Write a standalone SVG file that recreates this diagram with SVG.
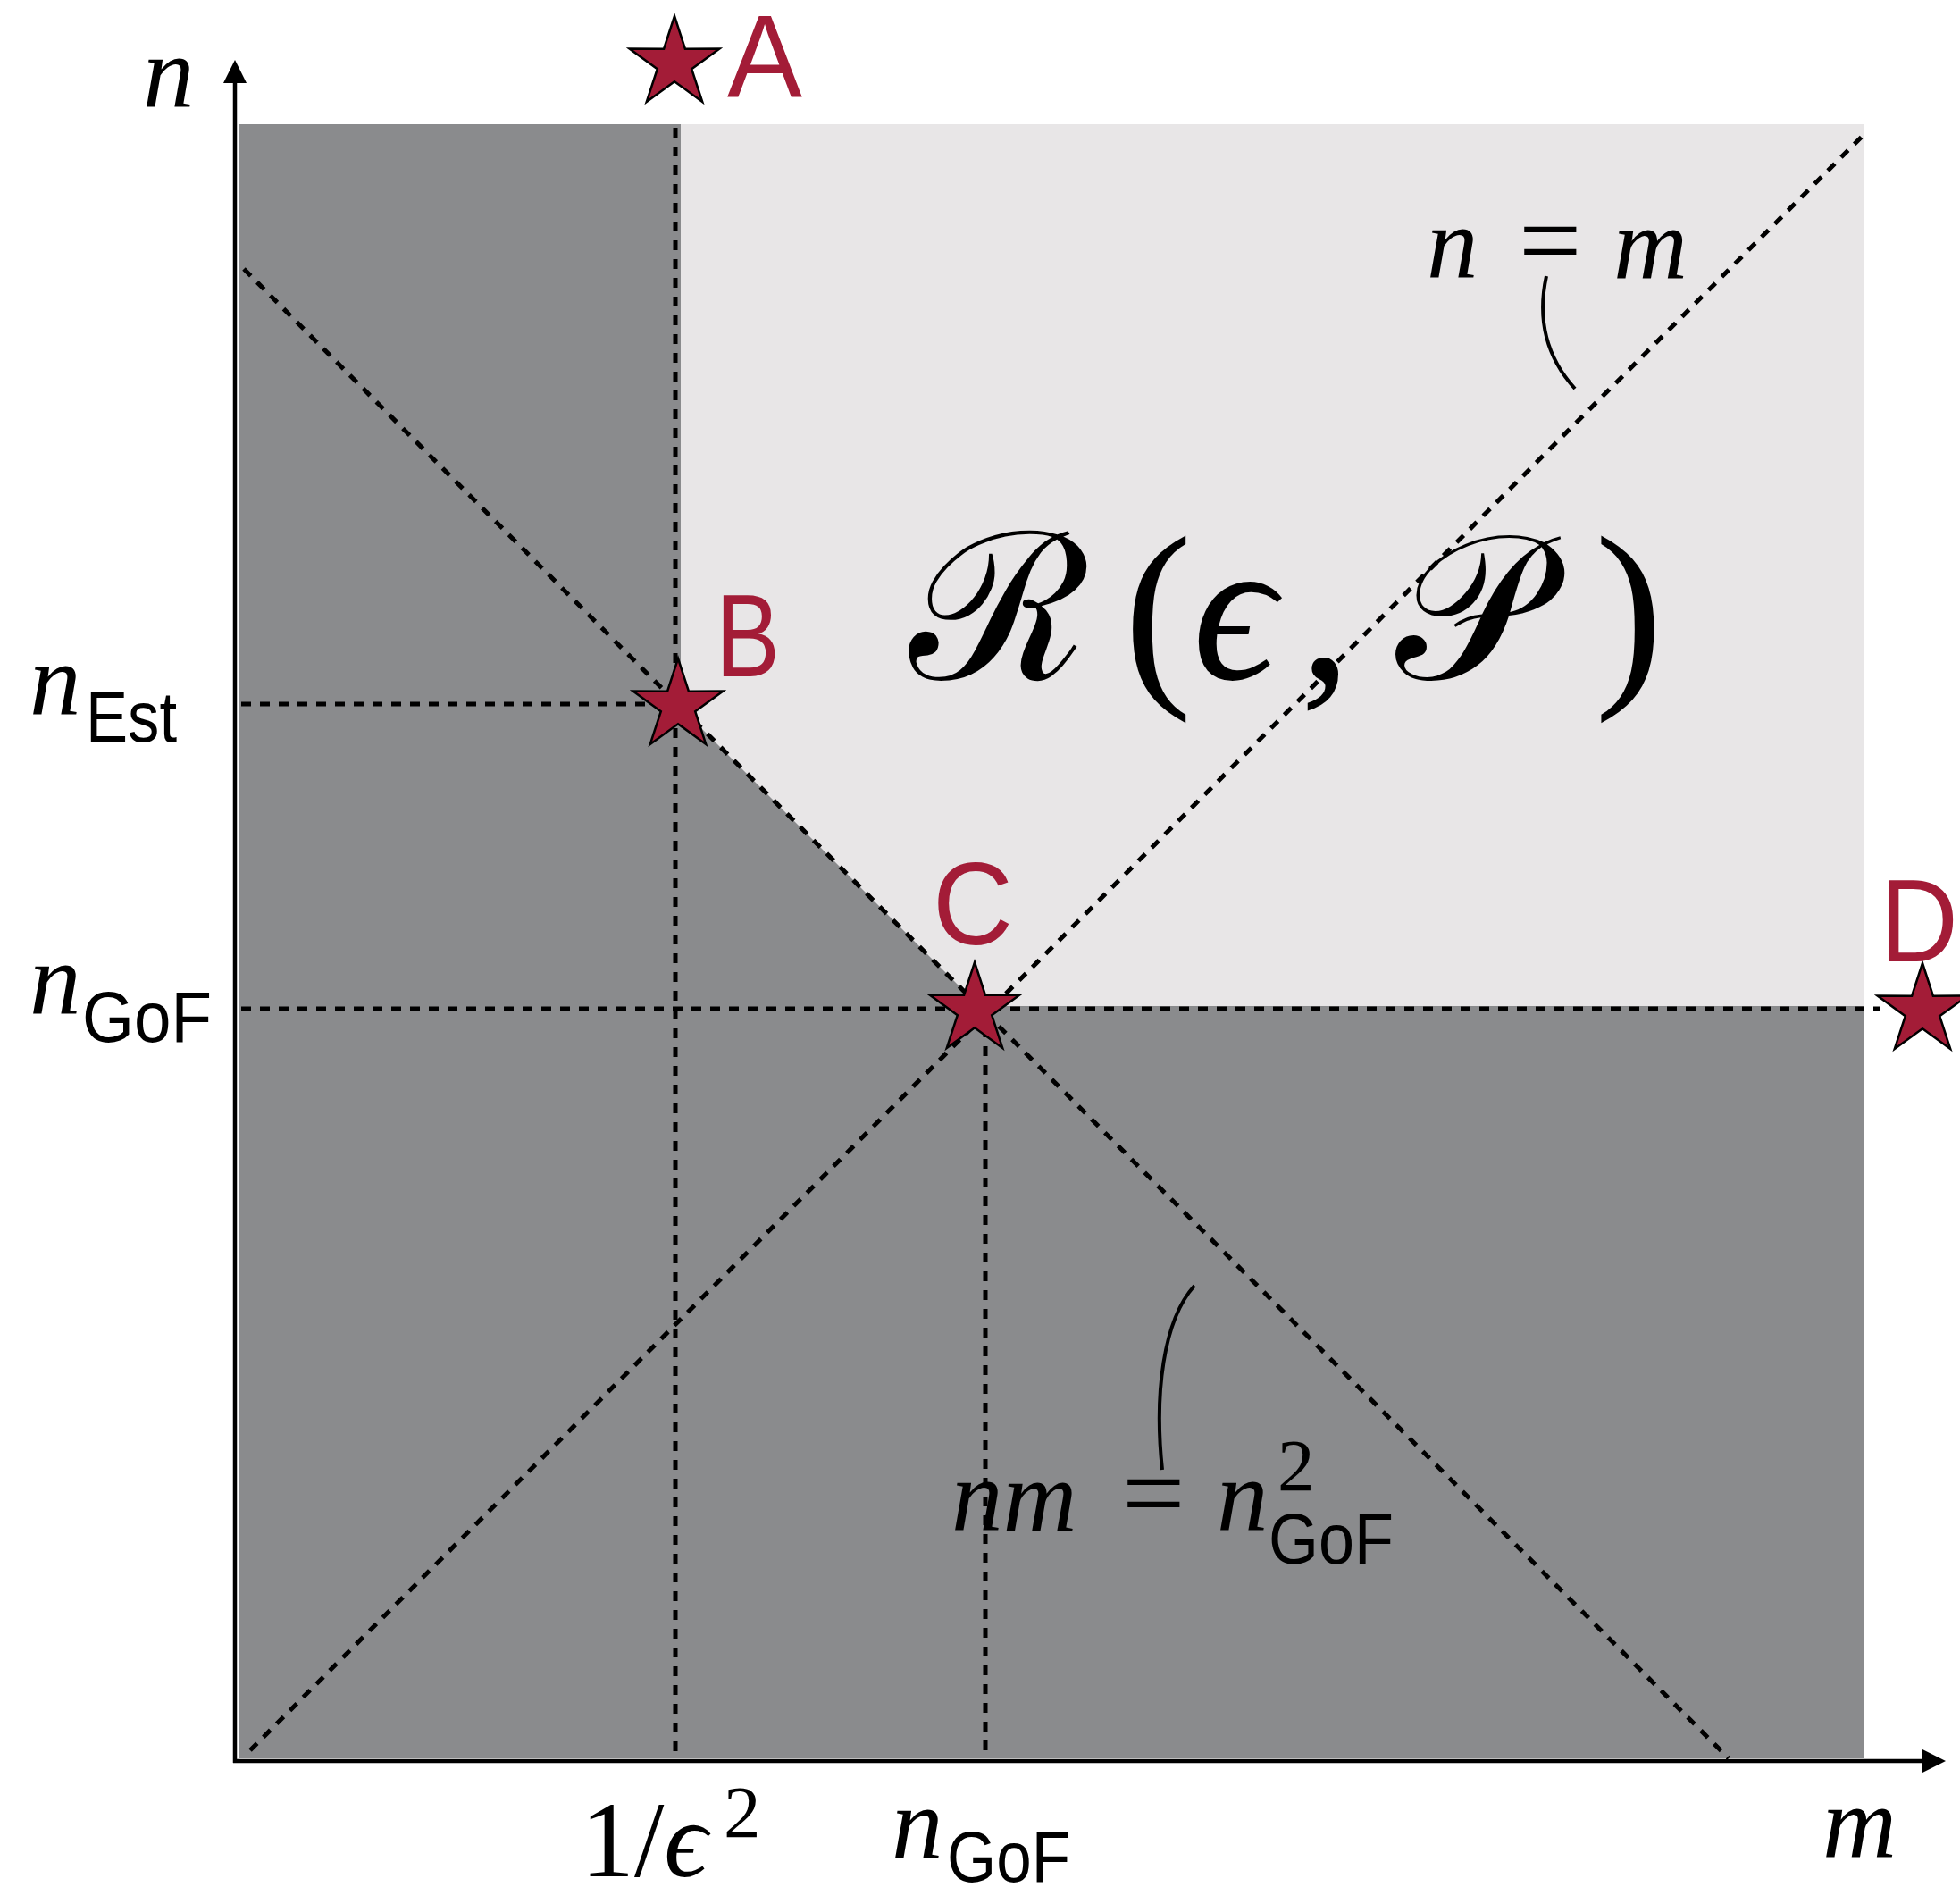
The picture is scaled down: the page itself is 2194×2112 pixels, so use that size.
<svg xmlns="http://www.w3.org/2000/svg" xmlns:xlink="http://www.w3.org/1999/xlink" width="2194" height="2112" viewBox="0 0 2194 2112">
<style>
.dash{stroke:#000;stroke-width:5;stroke-dasharray:11 10;fill:none}
.lead{stroke:#000;stroke-width:4;fill:none}
.axis{stroke:#000;stroke-width:4.5;fill:none}
.math{font-family:"Liberation Serif","DejaVu Serif",serif;font-style:italic;font-size:115px;fill:#000}
.rm{font-family:"Liberation Serif","DejaVu Serif",serif;font-style:normal;fill:#000}
.sub{font-family:"Liberation Sans",Arial,sans-serif;font-size:80px;fill:#000}
.lbl{font-family:"Liberation Sans",Arial,sans-serif;font-size:131px;fill:#A31C37}
.star{fill:#A31C37;stroke:#000;stroke-width:2.5;stroke-linejoin:miter}
</style>
<defs>
<polygon id="star" class="star" points="0,-53 11.9,-16.3 50.4,-16.4 19.2,6.2 31.2,42.9 0,20.2 -31.2,42.9 -19.2,6.2 -50.4,-16.4 -11.9,-16.3"/>
</defs>
<rect width="2194" height="2112" fill="#fff"/>
<g id="regions">
<rect id="infeasible" x="268" y="139" width="1818" height="1829" fill="#8A8B8D"/>
<polygon id="region-R" points="762,139 2086,139 2086,1126 1096,1126 762,792" fill="#E8E6E7"/>
</g>
<g id="connectors">
<line class="dash" x1="756" y1="143" x2="756" y2="1970"/>
<line class="dash" x1="270" y1="788" x2="756" y2="788"/>
<line class="dash" x1="270" y1="1129" x2="2105" y2="1129"/>
<line class="dash" x1="1103" y1="1129" x2="1103" y2="1970"/>
<line class="dash" x1="273" y1="301" x2="1935" y2="1968"/>
<line class="dash" x1="280" y1="1959" x2="2085" y2="152"/>
<path class="lead" d="M1731,309 C1720,360 1733,402 1763,435"/>
<path class="lead" d="M1337,1439 C1302,1478 1292,1560 1301,1645"/>
</g>
<g id="axes">
<line class="axis" x1="263" y1="1973" x2="263" y2="90"/>
<polygon points="263,67 250,93 276,93" fill="#000"/>
<line class="axis" x1="261" y1="1971" x2="2155" y2="1971"/>
<polygon points="2178,1971 2152,1958 2152,1984" fill="#000"/>
</g>
<g id="axis-labels">
<text class="math" x="160" y="120">n</text>
<text class="math" x="2040" y="2078">m</text>
<g id="label-nEst"><text class="math" x="33" y="800">n</text><text class="sub" x="96" y="830" textLength="102" lengthAdjust="spacingAndGlyphs">Est</text></g>
<g id="label-nGoF-y"><text class="math" x="33" y="1135">n</text><text class="sub" x="92" y="1166" textLength="145" lengthAdjust="spacingAndGlyphs">GoF</text></g>
<g id="label-inv-eps"><text class="rm" x="650" y="2100" font-size="120">1/<tspan font-style="italic">ϵ</tspan></text><text class="rm" x="810" y="2056" font-size="83">2</text></g>
<g id="label-nGoF-x"><text class="math" x="998" y="2080">n</text><text class="sub" x="1060" y="2106" textLength="138" lengthAdjust="spacingAndGlyphs">GoF</text></g>
</g>
<g id="curve-labels">
<g id="label-n-eq-m"><text class="math" x="1597" y="311">n</text><text class="rm" x="1700" y="311" font-size="125">=</text><text class="math" x="1806" y="311">m</text></g>
<g id="label-nm"><text class="math" x="1065" y="1713">nm</text><text class="rm" x="1256" y="1713" font-size="125">=</text><text class="math" x="1362" y="1713">n</text><text class="rm" x="1430" y="1668" font-size="83">2</text><text class="sub" x="1420" y="1750" textLength="140" lengthAdjust="spacingAndGlyphs">GoF</text></g>
</g>
<g id="region-label">
<text font-family="'DejaVu Serif','Noto Sans',serif" font-size="230" fill="#000" y="760"><tspan x="1018">ℛ</tspan><tspan x="1258" font-family="'Liberation Serif',serif">(</tspan><tspan x="1335" font-family="'Liberation Serif','DejaVu Serif',serif" font-style="italic">ϵ</tspan><tspan x="1455" font-family="'Liberation Serif',serif">,</tspan><tspan x="1562">𝒫</tspan><tspan x="1785" font-family="'Liberation Serif',serif">)</tspan></text>
</g>
<g id="point-A"><use xlink:href="#star" x="755" y="71"/><text class="lbl" x="814" y="109" textLength="84" lengthAdjust="spacingAndGlyphs">A</text></g>
<g id="point-B"><use xlink:href="#star" x="759" y="790"/><text class="lbl" x="801" y="757" textLength="72" lengthAdjust="spacingAndGlyphs">B</text></g>
<g id="point-C"><use xlink:href="#star" x="1091" y="1130"/><text class="lbl" x="1044" y="1057" textLength="90" lengthAdjust="spacingAndGlyphs">C</text></g>
<g id="point-D"><use xlink:href="#star" x="2152" y="1131"/><text class="lbl" x="2104" y="1076" textLength="88" lengthAdjust="spacingAndGlyphs">D</text></g>
</svg>
